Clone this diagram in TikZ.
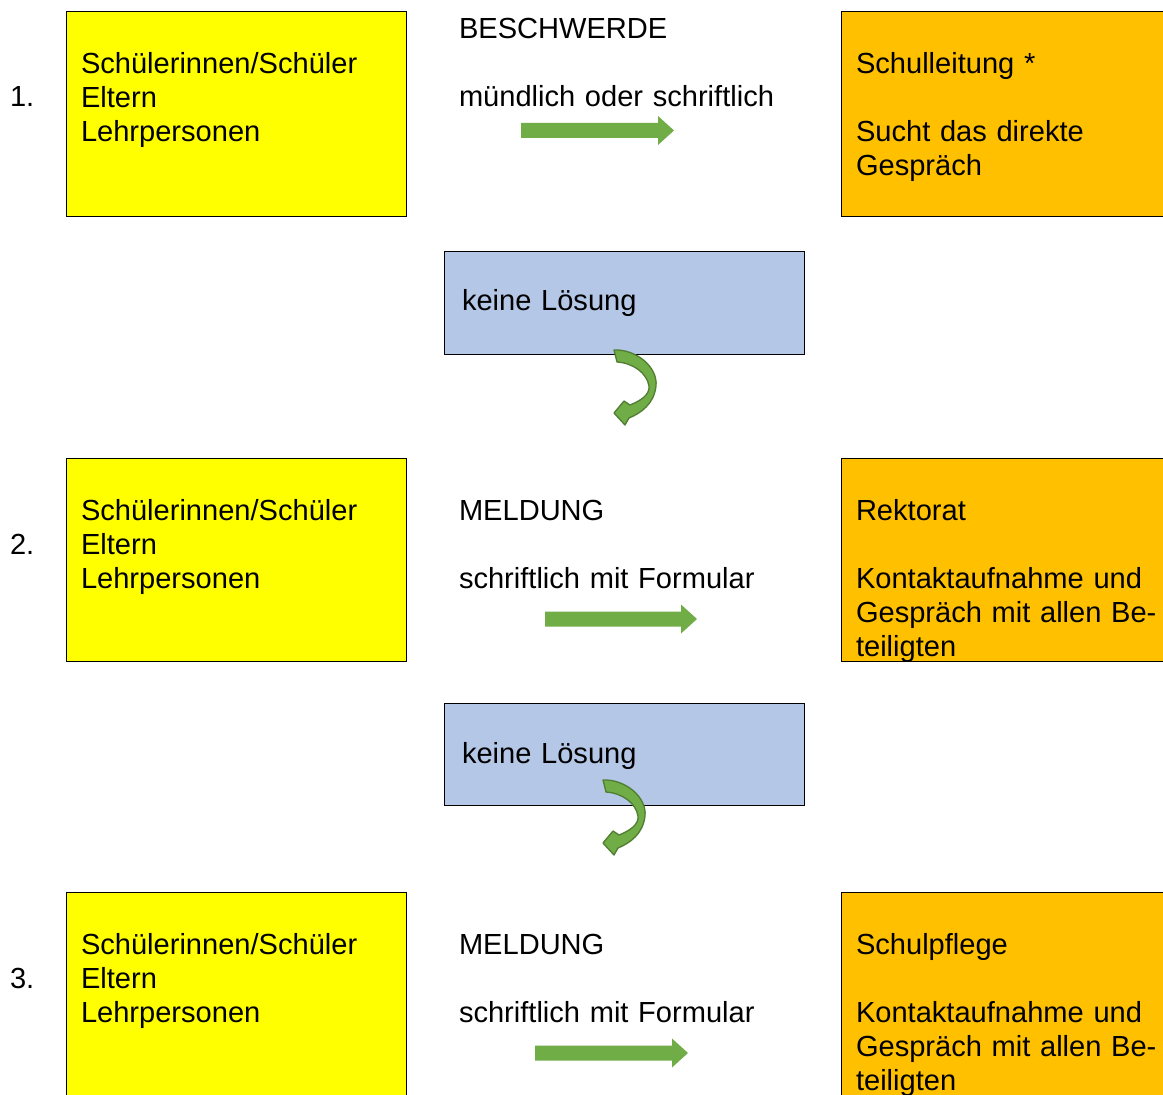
\documentclass[tikz,border=0pt]{standalone}
\usepackage{fontspec}
\setmainfont{Liberation Sans}
\definecolor{boxyellow}{HTML}{FFFF00}
\definecolor{boxorange}{HTML}{FFC000}
\definecolor{boxblue}{HTML}{B4C7E7}
\definecolor{arrowgreen}{HTML}{70AD47}
\definecolor{arrowdark}{HTML}{507E32}
\newcommand\grarrow[3]{%
  \fill[arrowgreen] (#1,#3-7.5) -- (#2-16,#3-7.5) -- (#2-16,#3-14.5) -- (#2,#3)
    -- (#2-16,#3+14.5) -- (#2-16,#3+7.5) -- (#1,#3+7.5) -- cycle;}
\newcommand\curvarrow{%
  \filldraw[fill=arrowgreen, draw=arrowdark, line width=1pt, line join=round]
    (614,350) .. controls (636,349) and (658,367) .. (656,386)
    .. controls (654,404) and (641,413) .. (629,418)
    -- (625,425) -- (614,413) -- (624,401) -- (630,405)
    .. controls (640,401) and (650,395) .. (649,386)
    .. controls (647,373) and (633,363) .. (617,362) -- cycle;}
\begin{document}
\begin{tikzpicture}[x=0.75pt,y=-0.75pt,
  every node/.style={font=\fontsize{21.8}{25.5}\selectfont, inner sep=0pt, outer sep=0pt},
  txt/.style={anchor=base west, text width=320pt, align=left},
  panel/.style={draw=black, line width=0.75pt, anchor=north west},
  ybox/.style={panel, fill=boxyellow, minimum width=255pt},
  obox/.style={panel, fill=boxorange, minimum width=247.5pt},
  bbox/.style={panel, fill=boxblue, minimum width=270pt}]
\useasboundingbox (0,0) rectangle (1163,1095);
\fill[white] (0,0) rectangle (1163,1095);

% row 1
\node[ybox, minimum height=153pt] (y1) at (66,12) {};
\node[obox, minimum height=153pt] (o1) at (841,12) {};
\node[txt] (n1) at (10,107) {1.};
\node[txt] (t1) at (81,74) {Schülerinnen/Schüler\\Eltern\\Lehrpersonen};
\node[txt] (m1) at (459,39) {BESCHWERDE\\~\\mündlich oder schriftlich};
\node[txt] (r1) at (856,74) {Schulleitung *\\~\\Sucht das direkte\\Gespräch};
\grarrow{521}{674}{130.5}

% no solution 1
\node[bbox, minimum height=77.25pt] (b1) at (444,251) {};
\node[txt] (k1) at (462,310) {keine Lösung};
\curvarrow

% row 2
\node[ybox, minimum height=152.25pt] (y2) at (66,458) {};
\node[obox, minimum height=152.25pt] (o2) at (841,458) {};
\node[txt] (n2) at (10,554) {2.};
\node[txt] (t2) at (81,520) {Schülerinnen/Schüler\\Eltern\\Lehrpersonen};
\node[txt] (m2) at (459,520) {MELDUNG\\~\\schriftlich mit Formular};
\node[txt] (r2) at (856,520) {Rektorat\\~\\Kontaktaufnahme und\\Gespräch mit allen Be-\\teiligten};
\grarrow{545}{697}{619}

% no solution 2
\node[bbox, minimum height=76.5pt] (b2) at (444,703) {};
\node[txt] (k2) at (462,763) {keine Lösung};
\begin{scope}[shift={(-11,430)}]
\curvarrow
\end{scope}

% row 3
\node[ybox, minimum height=165pt] (y3) at (66,892) {};
\node[obox, minimum height=165pt] (o3) at (841,892) {};
\node[txt] (n3) at (10,988) {3.};
\node[txt] (t3) at (81,954) {Schülerinnen/Schüler\\Eltern\\Lehrpersonen};
\node[txt] (m3) at (459,954) {MELDUNG\\~\\schriftlich mit Formular};
\node[txt] (r3) at (856,954) {Schulpflege\\~\\Kontaktaufnahme und\\Gespräch mit allen Be-\\teiligten};
\grarrow{535}{688}{1053}
\end{tikzpicture}
\end{document}
